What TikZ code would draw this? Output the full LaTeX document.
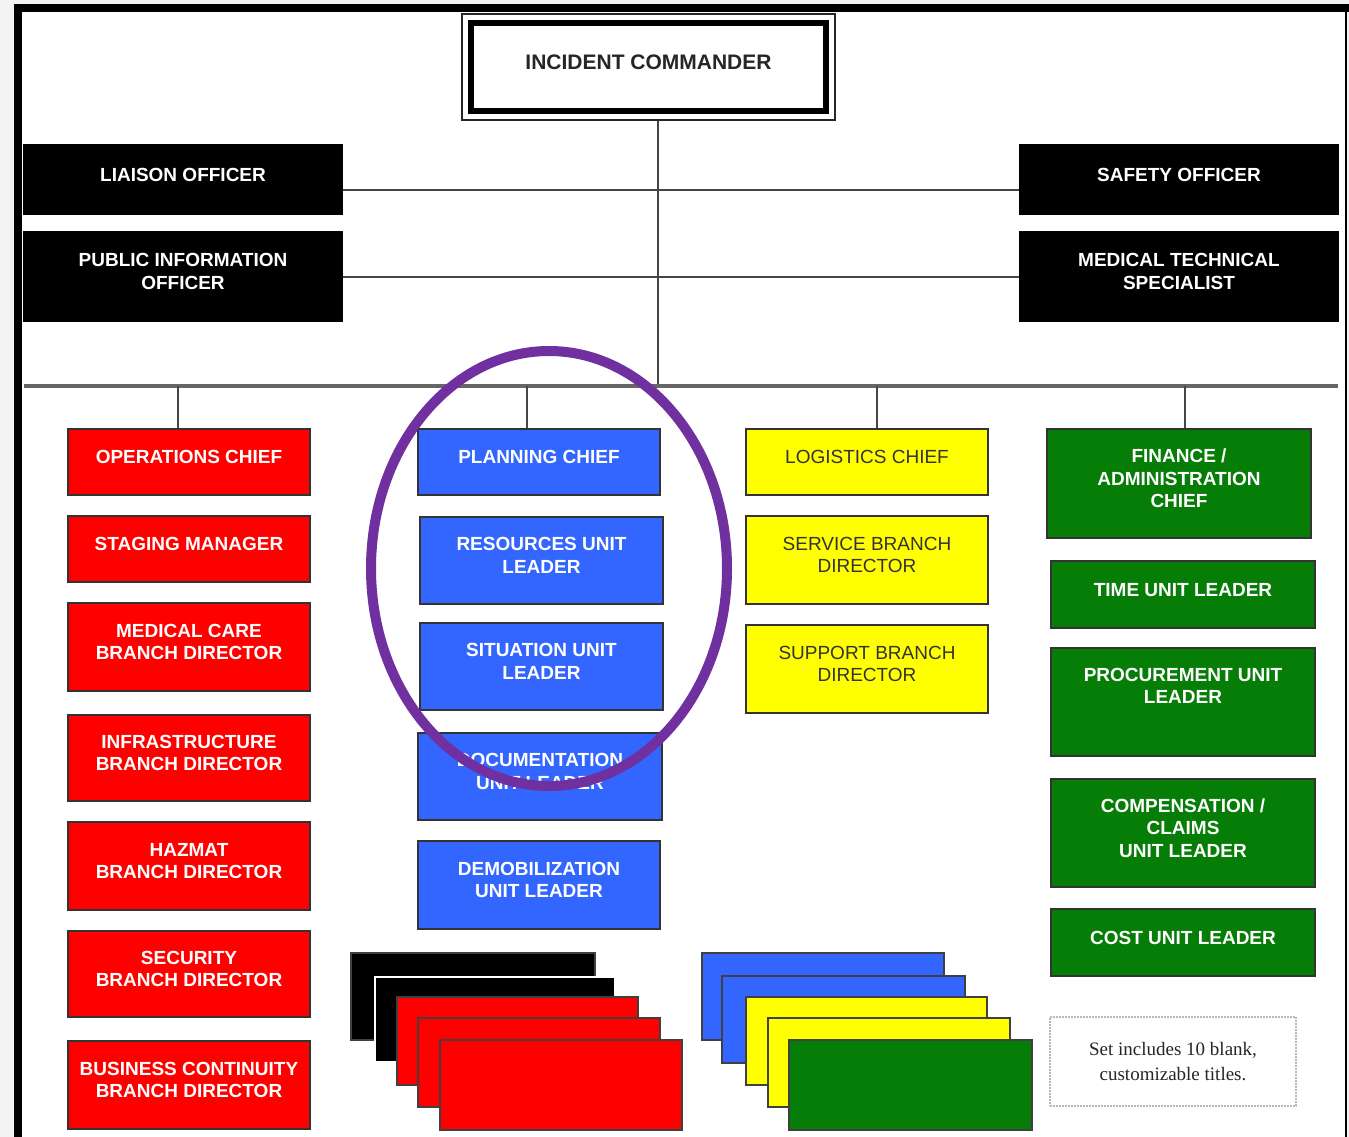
\documentclass[tikz,border=0pt]{standalone}
\usepackage{fontspec}
\setmainfont{Liberation Sans}
\newfontfamily\notefont{Liberation Serif}
\definecolor{ired}{HTML}{FF0000}
\definecolor{iblue}{HTML}{3366FF}
\definecolor{iyellow}{HTML}{FFFF00}
\definecolor{igreen}{HTML}{067D06}
\definecolor{ipurple}{HTML}{7030A0}
\definecolor{iline}{HTML}{454545}
\definecolor{ibus}{HTML}{666666}
\definecolor{iback}{HTML}{F3F3F3}
\begin{document}
\begin{tikzpicture}[x=1pt,y=-1pt,
  sz/.style 2 args={minimum width=#1pt, minimum height=#2pt},
  box/.style={draw=black!80, line width=1.3pt, align=center, inner sep=1pt,
    text depth=10pt, text=white, font=\fontsize{19}{22.5}\selectfont\bfseries},
  blackbox/.style={box, fill=black, draw=black},
  redbox/.style={box, fill=ired},
  bluebox/.style={box, fill=iblue},
  yellowbox/.style={box, fill=iyellow, text=black!80,
    font=\fontsize{19}{22.5}\selectfont},
  greenbox/.style={box, fill=igreen},
  conn/.style={draw=iline, line width=2.6pt},
  busline/.style={draw=ibus, line width=3.8pt},
  stackbox/.style={draw=black!75, line width=1.3pt}
]
\useasboundingbox (0,0) rectangle (1349,1137);
% background and frame
\fill[iback] (0,0) rectangle (1349,1137);
\fill[white] (18,8) rectangle (1346,1137);
\draw[line width=8pt] (18,1137) -- (18,8) -- (1349,8);
\draw[line width=2pt] (1346,8) -- (1346,1137);

% incident commander
\node[draw=black!85, line width=1.3pt, fill=white, sz={373}{106}, text depth=10pt,
  font=\fontsize{21}{24}\selectfont\bfseries, text=black!85] (ic) at (648.5,67) {INCIDENT COMMANDER};
\draw[line width=6pt] ([shift={(10,10)}]ic.north west) rectangle ([shift={(-10,-10)}]ic.south east);

% command staff
\node[blackbox, sz={318}{69}] (lia) at (183,179.5) {LIAISON OFFICER};
\node[blackbox, sz={318}{89}] (pio) at (183,276.5) {PUBLIC INFORMATION\\OFFICER};
\node[blackbox, sz={318}{69}] (saf) at (1179,179.5) {SAFETY OFFICER};
\node[blackbox, sz={318}{89}] (mts) at (1179,276.5) {MEDICAL TECHNICAL\\SPECIALIST};

% operations (red)
\node[redbox, sz={242}{66}] (ops) at (189,462) {OPERATIONS CHIEF};
\node[redbox, sz={242}{66}] (stg) at (189,549) {STAGING MANAGER};
\node[redbox, sz={242}{88}] (med) at (189,647) {MEDICAL CARE\\BRANCH DIRECTOR};
\node[redbox, sz={242}{86}] (inf) at (189,758) {INFRASTRUCTURE\\BRANCH DIRECTOR};
\node[redbox, sz={242}{88}] (haz) at (189,866) {HAZMAT\\BRANCH DIRECTOR};
\node[redbox, sz={242}{86}] (sec) at (189,974) {SECURITY\\BRANCH DIRECTOR};
\node[redbox, sz={242}{88}] (bcd) at (189,1085) {BUSINESS CONTINUITY\\BRANCH DIRECTOR};

% planning (blue)
\node[bluebox, sz={242}{66}] (pln) at (539,462) {PLANNING CHIEF};
\node[bluebox, sz={243}{87}] (res) at (541.5,560.5) {RESOURCES UNIT\\LEADER};
\node[bluebox, sz={243}{87}] (sit) at (541.5,666.5) {SITUATION UNIT\\LEADER};
\node[bluebox, sz={244}{87}] (doc) at (540,776.5) {DOCUMENTATION\\UNIT LEADER};
\node[bluebox, sz={242}{88}] (dem) at (539,885) {DEMOBILIZATION\\UNIT LEADER};

% logistics (yellow)
\node[yellowbox, sz={242}{66}] (log) at (867,462) {LOGISTICS CHIEF};
\node[yellowbox, sz={242}{88}] (svc) at (867,560) {SERVICE BRANCH\\DIRECTOR};
\node[yellowbox, sz={242}{88}] (sup) at (867,669) {SUPPORT BRANCH\\DIRECTOR};

% finance (green)
\node[greenbox, sz={264}{109}] (fin) at (1179,483.5) {FINANCE /\\ADMINISTRATION\\CHIEF};
\node[greenbox, sz={264}{67}] (tim) at (1183,594.5) {TIME UNIT LEADER};
\node[greenbox, sz={264}{108}] (pro) at (1183,702) {PROCUREMENT UNIT\\LEADER\\\mbox{}};
\node[greenbox, sz={264}{108}] (cmp) at (1183,833) {COMPENSATION /\\CLAIMS\\UNIT LEADER};
\node[greenbox, sz={264}{67}] (cst) at (1183,942.5) {COST UNIT LEADER};

% connectors
\coordinate (busL) at (24,386);
\coordinate (busR) at (1338,386);
\coordinate (icdrop) at (658,386);
\coordinate (dOps) at (178,386);
\coordinate (dPln) at (527,386);
\coordinate (dLog) at (877,386);
\coordinate (dFin) at (1185,386);
\draw[conn] (icdrop |- ic.south) -- (icdrop);
\draw[conn] (lia.east |- 0,190) -- (saf.west |- 0,190);
\draw[conn] (pio.east |- 0,277) -- (mts.west |- 0,277);
\draw[busline] (busL) -- (busR);
\draw[conn] (dOps) -- (dOps |- ops.north);
\draw[conn] (dPln) -- (dPln |- pln.north);
\draw[conn] (dLog) -- (dLog |- log.north);
\draw[conn] (dFin) -- (dFin |- fin.north);

% blank title stacks
\draw[stackbox, fill=black] (351,953) rectangle (595,1040);
\draw[stackbox, fill=black, draw=white] (375,977) rectangle (615,1062);
\draw[stackbox, fill=ired] (397,997) rectangle (638,1085);
\draw[stackbox, fill=ired] (418,1018) rectangle (660,1107);
\draw[stackbox, fill=ired] (440,1040) rectangle (682,1130);

\draw[stackbox, fill=iblue] (702,953) rectangle (944,1040);
\draw[stackbox, fill=iblue] (722,976) rectangle (965,1063);
\draw[stackbox, fill=iyellow] (746,997) rectangle (987,1085);
\draw[stackbox, fill=iyellow] (768,1018) rectangle (1010,1107);
\draw[stackbox, fill=igreen] (789,1040) rectangle (1032,1130);

% note
\node[draw=gray!55, line width=2pt, densely dotted, sz={246}{89}, align=center,
  font=\notefont\fontsize{19}{25}\selectfont, text=black!85] (note) at (1173,1061.5)
  {Set includes 10 blank,\\customizable titles.};

% highlight ellipse
\draw[ipurple, line width=10pt] (549,568.5) ellipse [x radius=178, y radius=217.5];
\end{tikzpicture}
\end{document}
